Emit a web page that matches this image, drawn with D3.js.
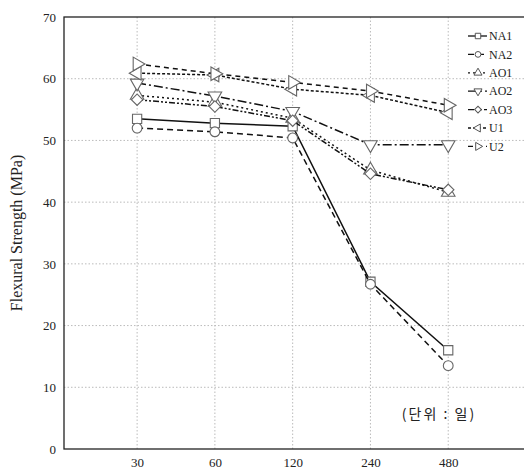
<!DOCTYPE html>
<meta charset="utf-8">
<style>
    body { margin: 0; background: #fff; }
    svg { display: block; }
    text { font-family: "Liberation Serif", "DejaVu Serif", serif; fill: #222; }
    .grid line { stroke: #bbb; stroke-dasharray: 1.5, 2; }
    .tick text { font-size: 13px; fill: #222; }
</style>
<svg width="524" height="473"></svg>
<script src="https://d3js.org/d3.v7.min.js"></script>
<script>
    var days = ["30", "60", "120", "240", "480"];
    var yTicks = [0, 10, 20, 30, 40, 50, 60, 70];

    var NA1 = [53.5, 52.8, 52.3, 27.1, 16.0];
    var NA2 = [52.0, 51.4, 50.4, 26.7, 13.5];
    var AO1 = [57.3, 56.2, 53.6, 45.2, 41.6];
    var AO2 = [59.3, 57.2, 54.7, 49.3, 49.3];
    var AO3 = [56.6, 55.5, 53.2, 44.6, 42.0];
    var U1 = [60.9, 60.6, 58.3, 57.3, 54.5];
    var U2 = [62.4, 60.8, 59.4, 58.0, 55.7];

    var names = ["NA1", "NA2", "AO1", "AO2", "AO3", "U1", "U2"];
    var values = [NA1, NA2, AO1, AO2, AO3, U1, U2];
    var dashes = ["none", "6,4", "2,3", "9,3,2,3", "6,2,2,2,2,2", "3,2", "5,4"];
    var shapes = [d3.symbolSquare, d3.symbolCircle, d3.symbolTriangle, d3.symbolTriangle,
        d3.symbolSquare, d3.symbolTriangle, d3.symbolTriangle];
    var sizes = [85, 75, 80, 80, 65, 80, 80];
    var turns = [0, 0, 0, 180, 45, -90, 90];

    var svg = d3.select("svg"),
        pLeft = 64, pRight = 526, pTop = 17, pBottom = 449;

    var x = d3.scaleLinear().domain([-0.94, 5]).range([pLeft, pRight]);
    var y = d3.scaleLinear().domain([0, 70]).range([pBottom, pTop]);

    // grid
    var grid = svg.append("g").attr("class", "grid");
    grid.selectAll(".h").data(yTicks.slice(1, -1)).enter().append("line")
        .attr("x1", pLeft).attr("x2", pRight)
        .attr("y1", y).attr("y2", y);
    grid.selectAll(".v").data(days).enter().append("line")
        .attr("x1", function (d, i) { return x(i); })
        .attr("x2", function (d, i) { return x(i); })
        .attr("y1", pTop).attr("y2", pBottom);

    // frame
    svg.append("rect")
        .attr("x", pLeft).attr("y", pTop)
        .attr("width", pRight - pLeft).attr("height", pBottom - pTop)
        .attr("fill", "none").attr("stroke", "#222").attr("stroke-width", 1.3);

    // axes
    var yAxis = svg.append("g")
        .attr("transform", "translate(" + pLeft + ",0)")
        .call(d3.axisLeft(y).tickValues(yTicks).tickSize(0).tickPadding(8));
    yAxis.select(".domain").remove();

    var xAxis = svg.append("g")
        .attr("transform", "translate(0," + pBottom + ")")
        .call(d3.axisBottom(x).tickValues(d3.range(days.length))
            .tickFormat(function (i) { return days[i]; })
            .tickSize(0).tickPadding(9));
    xAxis.select(".domain").remove();

    svg.append("text")
        .attr("transform", "translate(22," + (pTop + pBottom) / 2 + ") rotate(-90)")
        .attr("text-anchor", "middle")
        .style("font-size", "16px")
        .text("Flexural Strength (MPa)");

    svg.append("text")
        .attr("x", 439).attr("y", 419)
        .attr("text-anchor", "middle")
        .style("font-family", "'Noto Sans CJK KR', sans-serif")
        .style("font-size", "14px")
        .style("letter-spacing", "2px")
        .text("(단위 :  일)");

    var line = d3.line()
        .x(function (d, i) { return x(i); })
        .y(function (d) { return y(d); });

    var series = svg.append("g").selectAll("g").data(values).enter().append("g");
    series.append("path")
        .attr("d", line)
        .attr("fill", "none")
        .attr("stroke", "#111")
        .attr("stroke-width", 1.5)
        .attr("stroke-dasharray", function (d, k) { return dashes[k]; });

    series.each(function (vals, k) {
        d3.select(this).selectAll("path.pt").data(vals).enter().append("path")
            .attr("class", "pt")
            .attr("transform", function (d, i) {
                return "translate(" + x(i) + "," + y(d) + ") rotate(" + turns[k] + ")";
            })
            .attr("d", d3.symbol().type(shapes[k]).size(sizes[k]))
            .attr("fill", "#fff")
            .attr("stroke", "#666")
            .attr("stroke-width", 1.1);
    });

    // legend
    var legend = svg.append("g").attr("transform", "translate(462,36)");
    var item = legend.selectAll("g").data(names).enter().append("g")
        .attr("transform", function (d, k) { return "translate(0," + k * 18.4 + ")"; });
    item.append("line")
        .attr("x1", 6).attr("x2", 25)
        .attr("stroke", "#111").attr("stroke-width", 1.3)
        .attr("stroke-dasharray", function (d, k) { return dashes[k]; });
    item.append("path")
        .attr("transform", function (d, k) { return "translate(16,0) rotate(" + turns[k] + ")"; })
        .each(function (d, k) {
            d3.select(this).attr("d", d3.symbol().type(shapes[k]).size(sizes[k] * 0.35))
                .attr("fill", "#fff").attr("stroke", "#555").attr("stroke-width", 1);
        });
    item.append("text")
        .attr("x", 27).attr("dy", "0.35em")
        .style("font-size", "12px")
        .text(function (d) { return d; });
</script>
